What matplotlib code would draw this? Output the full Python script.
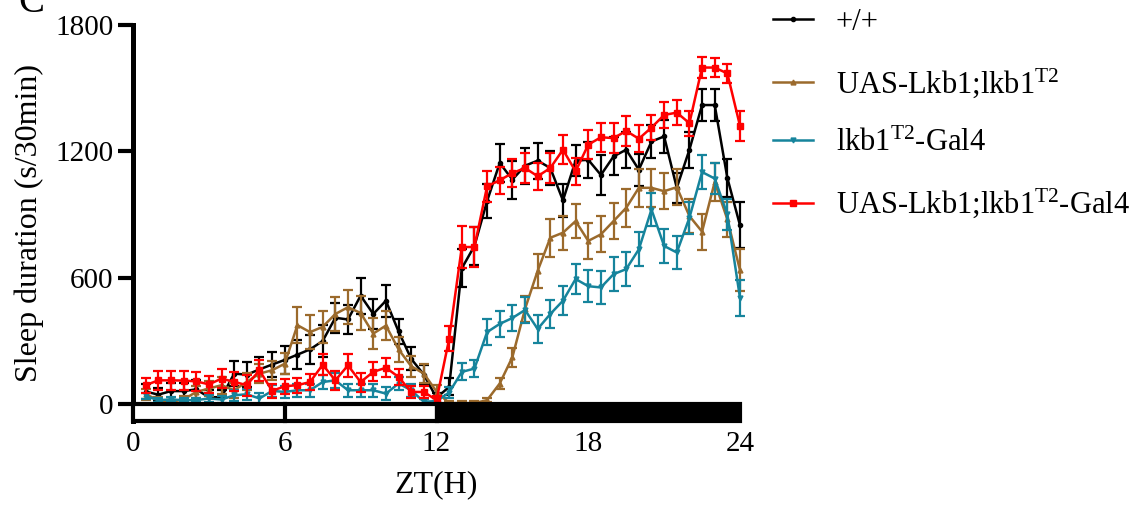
import numpy as np
import matplotlib
matplotlib.use("Agg")
import matplotlib.pyplot as plt
from matplotlib.patches import Rectangle
from matplotlib.lines import Line2D

plt.rcParams['font.family'] = ['Liberation Serif', 'DejaVu Serif']
plt.rcParams['mathtext.fontset'] = 'custom'
plt.rcParams['mathtext.rm'] = 'Liberation Serif'
plt.rcParams['mathtext.it'] = 'Liberation Serif:italic'

zt = np.arange(1, 49) * 0.5

labels = ['+/+', r'UAS-Lkb1;lkb1$^{\mathrm{T2}}$', r'lkb1$^{\mathrm{T2}}$-Gal4',
          r'UAS-Lkb1;lkb1$^{\mathrm{T2}}$-Gal4']

wt = [60, 45, 62, 62, 70, 33, 33, 145, 140, 165, 188, 210, 235, 260, 300, 410, 402, 515, 428, 491,
      345, 215, 140, 30, 82, 645, 751, 964, 1145, 1066, 1132, 1156, 1121, 967, 1156, 1160, 1088, 1176,
      1208, 1113, 1247, 1271, 1027, 1208, 1420, 1420, 1074, 849]
wt_err = [35, 30, 40, 40, 45, 35, 35, 60, 60, 60, 60, 65, 70, 70, 75, 70, 70, 85, 70, 75, 60, 55, 45, 25,
          40, 90, 90, 80, 90, 90, 85, 85, 80, 80, 75, 85, 95, 90, 85, 75, 80, 80, 70, 85, 75, 75, 90, 110]

uas = [47, 19, 11, 22, 58, 74, 90, 66, 106, 145, 161, 192, 375, 342, 367, 428, 460, 433, 335, 373,
       260, 180, 145, 60, 5, 5, 5, 19, 98, 223, 452, 633, 790, 814, 869, 775, 806, 869, 932, 1027,
       1027, 1011, 1030, 893, 819, 1055, 877, 636]
uas_err = [25, 15, 10, 15, 30, 35, 40, 35, 40, 45, 45, 50, 85, 80, 75, 80, 80, 80, 75, 70, 60, 50, 45, 30,
           10, 10, 10, 10, 25, 45, 60, 80, 90, 80, 80, 85, 85, 85, 90, 90, 90, 85, 85, 80, 85, 90, 85, 100]

gal = [38, 19, 22, 19, 19, 27, 22, 42, 47, 27, 63, 58, 66, 66, 105, 113, 66, 66, 66, 50,
       98, 66, 11, 15, 55, 153, 169, 342, 381, 409, 447, 357, 428, 491, 594, 560, 554, 617, 641, 735,
       924, 751, 720, 885, 1102, 1071, 901, 504]
gal_err = [15, 10, 10, 10, 10, 15, 15, 25, 25, 25, 30, 30, 30, 30, 35, 35, 30, 30, 30, 30, 30, 30, 15, 15,
           25, 40, 40, 60, 60, 60, 60, 65, 65, 70, 70, 75, 80, 80, 80, 80, 80, 80, 80, 75, 80, 75, 75, 85]

rescue = [90, 113, 113, 112, 108, 94, 121, 106, 90, 161, 63, 85, 90, 105, 187, 113, 184, 105, 153, 173,
          129, 58, 58, 19, 310, 746, 746, 1034, 1063, 1097, 1121, 1082, 1121, 1208, 1105, 1232, 1267, 1263,
          1297, 1260, 1313, 1373, 1384, 1334, 1598, 1598, 1570, 1321]
rescue_err = [35, 45, 45, 45, 45, 40, 45, 45, 50, 50, 35, 35, 35, 40, 50, 45, 55, 45, 45, 45, 40, 30, 30, 20,
              60, 100, 95, 75, 65, 65, 70, 65, 70, 70, 65, 70, 70, 70, 70, 65, 60, 60, 60, 60, 50, 45, 45, 70]

xticks = [0, 6, 12, 18, 24]
yticks = [0, 600, 1200, 1800]

series = [wt, uas, gal, rescue]
errs = [wt_err, uas_err, gal_err, rescue_err]
colors = ['#000000', '#9B6A2C', '#16849C', '#FF0000']
markers = ['o', '^', 'v', 's']
msizes = [3, 3.5, 3.5, 4]

fig = plt.figure(figsize=(11.48, 5.05), dpi=100)
ax = fig.add_axes([133 / 1148, 1 - 421 / 505, (740 - 133) / 1148, (421 - 25) / 505])

handles = []
for i, (y, e, c, m, ms) in enumerate(zip(series, errs, colors, markers, msizes)):
    ax.errorbar(zt, y, yerr=e, color=c, marker=m, markersize=ms, lw=1.8,
                elinewidth=1.6, capsize=3.5, capthick=1.6, zorder=3 + i, clip_on=False)
    handles.append(Line2D([], [], color=c, marker=m, markersize=ms, lw=1.8))

ax.set_xlim(0, 24)
ax.set_ylim(-80, 1800)
for s in ['top', 'right', 'bottom']:
    ax.spines[s].set_visible(False)
ax.spines['left'].set_linewidth(3.6)
ax.set_yticks(yticks)
ax.tick_params(axis='y', length=11, width=3, labelsize=21, pad=3)
ax.set_xticks(xticks)
ax.tick_params(axis='x', length=0, labelsize=21, pad=7)

# light/dark bar
ax.add_patch(Rectangle((0, -80), 12, 80, facecolor='white', edgecolor='black', lw=3,
                       zorder=10, clip_on=False))
ax.add_patch(Rectangle((12, -80), 12, 80, facecolor='black', edgecolor='black', lw=3,
                       zorder=10, clip_on=False))
ax.plot([6, 6], [-80, 0], color='black', lw=3, zorder=11, clip_on=False)

ax.set_ylabel('Sleep duration (s/30min)', fontsize=23, labelpad=8)
ax.set_xlabel('ZT(H)', fontsize=23, labelpad=10)

fig.text(18 / 1148, 1 - 12 / 505, 'C', fontsize=28, ha='left', va='baseline')

fig.legend(handles, labels, loc='upper left', bbox_to_anchor=(773 / 1148, 1 - 8 / 505),
           frameon=False, fontsize=22, handlelength=1.3, handletextpad=0.75,
           labelspacing=0.95, borderpad=0, borderaxespad=0)

fig.savefig('out.png', dpi=100)
